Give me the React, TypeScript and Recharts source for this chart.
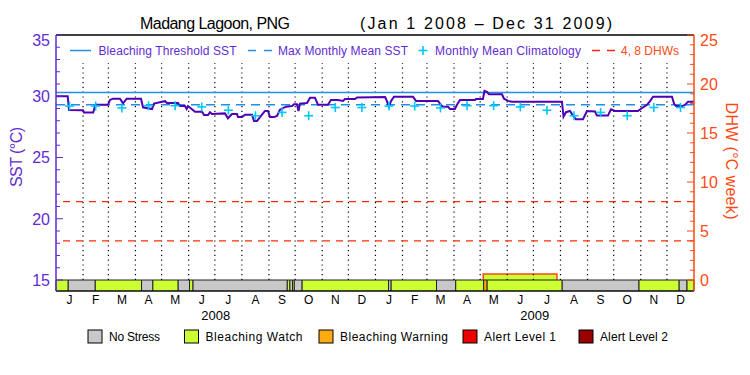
import React from 'react';
import {
  ComposedChart,
  Line,
  Scatter,
  Area,
  XAxis,
  YAxis,
  ReferenceLine,
  ReferenceArea,
} from 'recharts';

// ---------- data ----------
const monthStartDays = [0, 31, 60, 91, 121, 152, 182, 213, 244, 274, 305, 335, 366, 397, 425, 456, 486, 517, 547, 578, 609, 639, 670, 700, 731];
const monthLetters = ['J', 'F', 'M', 'A', 'M', 'J', 'J', 'A', 'S', 'O', 'N', 'D', 'J', 'F', 'M', 'A', 'M', 'J', 'J', 'A', 'S', 'O', 'N', 'D'];
const yearLabels = ['2008', '2009'];
const yearMidDays = [183, 548.5];

// [day since Jan 1 2008, SST °C]
const sstReadings: [number, number][] = [
  [0, 30.0], [13.4, 30.0], [14.9, 28.88], [30.9, 28.85], [32, 28.68], [42.7, 28.68], [44.7, 29.2], [45.8, 29.3],
  [59.6, 29.3], [61.9, 29.7], [65.3, 29.8], [73.3, 29.8], [76.8, 29.42], [81, 29.8], [97.4, 29.8], [99.7, 29.1],
  [110, 28.96], [112.3, 29.4], [121.4, 29.55], [124.9, 29.6], [127.2, 29.45], [139.8, 29.45], [142, 29.2], [147.8, 29.2],
  [149.7, 28.96], [151.2, 29.2], [154.7, 29.0], [159.3, 28.74], [167.3, 28.74], [169.6, 28.47], [174.2, 28.47], [176.4, 28.7],
  [178.7, 28.55], [193.6, 28.6], [197, 28.2], [201.6, 28.55], [207.4, 28.55], [208.5, 28.3], [213.1, 28.3], [216.5, 28.5],
  [224.6, 28.5], [226.9, 27.98], [230.3, 27.98], [232.6, 28.2], [236, 28.5], [239.5, 28.8], [242.9, 28.8], [245.2, 28.3],
  [249.8, 28.3], [253.2, 28.4], [256.6, 28.9], [263.5, 29.15], [270.4, 29.2], [272.7, 29.34], [276.1, 29.34], [277.8, 28.8],
  [279.6, 29.4], [287.6, 29.45], [291, 29.88], [296.7, 29.88], [300.2, 29.3], [311.6, 29.3], [315, 29.7], [323, 29.7],
  [328.8, 29.62], [331.1, 29.78], [342.6, 29.78], [344.9, 29.9], [377, 29.94], [378, 29.8], [381.5, 29.15], [383.8, 29.6],
  [387.2, 29.96], [409, 29.96], [412.5, 29.62], [437.7, 29.62], [441.1, 29.29], [443.4, 29.15], [449.1, 29.15], [451.4, 28.96],
  [457.1, 28.96], [459.4, 29.3], [462.9, 29.7], [480, 29.7], [481.2, 29.78], [489.2, 29.78], [490.9, 30.43], [493.8, 30.35],
  [496.1, 30.16], [511, 30.16], [513.3, 29.8], [517.9, 29.62], [522.5, 29.56], [579.7, 29.56], [581.5, 28.33], [584.3, 28.7],
  [588.9, 28.8], [592.4, 28.42], [595.8, 28.12], [603.8, 28.12], [608.4, 28.8], [617.6, 28.75], [619.8, 28.42], [632.4, 28.42],
  [635.9, 28.93], [640.5, 28.8], [666.8, 28.8], [672.6, 29.1], [677.2, 29.3], [680.6, 29.6], [684.1, 29.96], [705.8, 29.96],
  [708.1, 29.4], [710.4, 29.2], [717.3, 29.2], [720.7, 29.3], [724.1, 29.56], [731, 29.56],
];

// monthly mean climatology (°C), one per month of the two years
const climValues = [
  29.2, 29.2, 29.05, 29.23, 29.23, 29.13, 28.86, 28.41, 28.68, 28.41, 29.08, 29.08,
  29.2, 29.2, 29.05, 29.23, 29.23, 29.13, 28.86, 28.41, 28.68, 28.41, 29.08, 29.08,
];

const bleachingThreshold = 30.3;
const maxMonthlyMean = 29.3;
const dhwLevels = [4, 8];

const dhwDays = [489.5, 489.5, 574, 574];
const dhwValues = [0, 0.6, 0.6, 0];

// stress status periods (0 none, 1 watch, 2 warning, 3 alert1, 4 alert2)
const statusStart = [0, 14, 45, 98, 111, 140, 153, 157, 265, 268, 271, 273, 282, 381, 384, 436, 458, 490, 494, 580, 668, 714, 723];
const statusEnd = [14, 45, 98, 111, 140, 153, 157, 265, 268, 271, 273, 282, 381, 384, 436, 458, 490, 494, 580, 668, 714, 723, 731];
const statusLevel = [1, 0, 1, 0, 1, 0, 1, 0, 1, 0, 1, 0, 1, 0, 1, 0, 1, 2, 1, 0, 1, 0, 1];
const statusNames = ['No Stress', 'Bleaching Watch', 'Bleaching Warning', 'Alert Level 1', 'Alert Level 2'];

const leftTicks = [15, 16, 17, 18, 19, 20, 21, 22, 23, 24, 25, 26, 27, 28, 29, 30, 31, 32, 33, 34, 35];
const rightTicks = [0, 1, 2, 3, 4, 5, 6, 7, 8, 9, 10, 11, 12, 13, 14, 15, 16, 17, 18, 19, 20, 21, 22, 23, 24, 25];

// ---------- styles ----------
const statusColors = ['#c8c8c8', '#ccff33', '#ffaa11', '#ee0000', '#990000'];
const statusLegendX = [88, 184.5, 319, 463, 579];
const statusLegendLen = [51, 97, 108, 72, 68];
const PURPLE = '#5f2bd4';
const SSTLINE = '#5000b4';
const BLUE = '#1e90e8';
const CYAN = '#00c8ff';
const RED = '#ff2a00';
const ORANGE = '#ff4a14';
const FONT = '"Liberation Sans", Arial, sans-serif';

const LEFT_MIN = 14.102;
const RIGHT_MIN = -1.122;
const TICK_MARGIN_L = 6;
const TICK_MARGIN_R = 6;

const sstData = sstReadings.map(([day, sst]) => ({ day, sst }));
const monthMid = monthLetters.map((_, i) => (monthStartDays[i] + monthStartDays[i + 1]) / 2);
const climData = climValues.map((clim, i) => ({ day: monthMid[i], clim }));
const dhwData = dhwDays.map((day, i) => ({ day, dhw: dhwValues[i] }));

const LeftTick = (props: any) => {
  const { x, y, payload } = props;
  const v = payload.value;
  const major = v % 5 === 0;
  const ax = x + TICK_MARGIN_L;
  return (
    <g>
      <line x1={ax} x2={ax + (major ? 7 : 4)} y1={y} y2={y} stroke={PURPLE} strokeWidth={1} />
      {major && (
        <text x={x} y={y} dy={v === 35 ? 11 : 6} textAnchor="end" fill={PURPLE} fontSize={16} fontFamily={FONT}>
          {v}
        </text>
      )}
    </g>
  );
};

const RightTick = (props: any) => {
  const { x, y, payload } = props;
  const v = payload.value;
  const major = v % 5 === 0;
  const ax = x - TICK_MARGIN_R;
  return (
    <g>
      <line x1={ax} x2={ax - (major ? 7 : 4)} y1={y} y2={y} stroke={ORANGE} strokeWidth={1} />
      {major && (
        <text x={x} y={y} dy={v === 25 ? 11 : 6} textAnchor="start" fill={ORANGE} fontSize={16} fontFamily={FONT}>
          {v}
        </text>
      )}
    </g>
  );
};

const Cross = (props: any) => {
  const { cx, cy } = props;
  if (cx == null || cy == null) return null;
  return (
    <g>
      <line x1={cx - 4.5} x2={cx + 4.5} y1={cy} y2={cy} stroke={CYAN} strokeWidth={1.6} />
      <line x1={cx} x2={cx} y1={cy - 4.5} y2={cy + 4.5} stroke={CYAN} strokeWidth={1.6} />
    </g>
  );
};

export default function App() {
  return (
    <div style={{ position: 'absolute', left: 0, top: 0, width: 750, height: 375, background: '#fff' }}>
      <ComposedChart
        width={750}
        height={375}
        margin={{ top: 35, right: 0, left: 0, bottom: 50 }}
        style={{ fontFamily: FONT }}
      >
        <XAxis
          dataKey="day"
          type="number"
          domain={[0, 731]}
          allowDataOverflow
          ticks={monthMid}
          interval={0}
          tickFormatter={(_v: number, i: number) => monthLetters[i]}
          tickLine={false}
          tickSize={0}
          tickMargin={4}
          height={16}
          axisLine={{ stroke: '#000' }}
          tick={{ fill: '#000', fontSize: 12, fontFamily: FONT }}
        />
        <XAxis
          xAxisId="yr"
          dataKey="day"
          type="number"
          domain={[0, 731]}
          allowDataOverflow
          ticks={yearMidDays}
          interval={0}
          tickFormatter={(_v: number, i: number) => yearLabels[i]}
          tickLine={false}
          tickSize={0}
          tickMargin={4}
          height={18}
          axisLine={false}
          tick={{ fill: '#000', fontSize: 13, fontFamily: FONT }}
        />
        <YAxis
          yAxisId="left"
          orientation="left"
          type="number"
          domain={[LEFT_MIN, 35]}
          allowDataOverflow
          ticks={leftTicks}
          interval={0}
          width={56}
          tickLine={false}
          tickSize={0}
          tickMargin={TICK_MARGIN_L}
          axisLine={{ stroke: PURPLE, strokeWidth: 1.5 }}
          tick={<LeftTick />}
        />
        <YAxis
          yAxisId="right"
          orientation="right"
          type="number"
          domain={[RIGHT_MIN, 25]}
          allowDataOverflow
          ticks={rightTicks}
          interval={0}
          width={56}
          tickLine={false}
          tickSize={0}
          tickMargin={TICK_MARGIN_R}
          axisLine={{ stroke: ORANGE, strokeWidth: 1.5 }}
          tick={<RightTick />}
        />

        {monthStartDays.slice(1, -1).map((d) => (
          <ReferenceLine
            key={'g' + d}
            yAxisId="left"
            segment={[{ x: d, y: 15 }, { x: d, y: 32.7 }]}
            stroke="#000"
            strokeWidth={1.2}
            strokeDasharray="1.2 3.6"
          />
        ))}

        <ReferenceLine yAxisId="left" y={35} stroke="#000" strokeWidth={1.5} />
        <ReferenceLine yAxisId="left" y={bleachingThreshold} stroke={BLUE} strokeWidth={1.5} />
        <ReferenceLine yAxisId="left" y={maxMonthlyMean} stroke={BLUE} strokeWidth={1.5} strokeDasharray="9 6" />
        {dhwLevels.map((v) => (
          <ReferenceLine key={'dhw' + v} yAxisId="right" y={v} stroke={RED} strokeWidth={1.3} strokeDasharray="7 6" />
        ))}

        <Area
          yAxisId="right"
          data={dhwData}
          dataKey="dhw"
          type="linear"
          stroke={ORANGE}
          strokeWidth={1.5}
          fill="#ccff33"
          fillOpacity={1}
          dot={false}
          activeDot={false}
          isAnimationActive={false}
        />

        {statusStart.map((s, i) => (
          <ReferenceArea
            key={'s' + i}
            yAxisId="right"
            x1={s}
            x2={statusEnd[i]}
            y1={RIGHT_MIN}
            y2={0}
            fill={statusColors[statusLevel[i]]}
            fillOpacity={1}
            stroke="#222"
            strokeWidth={1}
          />
        ))}

        <Line
          yAxisId="left"
          data={sstData}
          dataKey="sst"
          type="linear"
          stroke={SSTLINE}
          strokeWidth={2}
          dot={false}
          activeDot={false}
          isAnimationActive={false}
        />
        <Scatter
          yAxisId="left"
          data={climData}
          dataKey="clim"
          shape={<Cross />}
          isAnimationActive={false}
        />
      </ComposedChart>

      <svg
        width={750}
        height={375}
        style={{ position: 'absolute', left: 0, top: 0, pointerEvents: 'none' }}
        fontFamily={FONT}
      >
        <text x={140} y={28.5} fontSize={16} fill="#000" textLength={150} lengthAdjust="spacing">
          Madang Lagoon, PNG
        </text>
        <text x={360} y={28.5} fontSize={16} fill="#000" textLength={252} lengthAdjust="spacing">
          (Jan 1 2008 – Dec 31 2009)
        </text>

        <line x1={70} x2={91} y1={50.5} y2={50.5} stroke={BLUE} strokeWidth={1.5} />
        <text x={98.5} y={54.5} fontSize={12} fill={PURPLE} textLength={138} lengthAdjust="spacing">
          Bleaching Threshold SST
        </text>
        <line x1={248} x2={272} y1={50.5} y2={50.5} stroke={BLUE} strokeWidth={1.5} strokeDasharray="8 8" />
        <text x={278} y={54.5} fontSize={12} fill={PURPLE} textLength={130} lengthAdjust="spacing">
          Max Monthly Mean SST
        </text>
        <line x1={418.5} x2={427.5} y1={50.5} y2={50.5} stroke={CYAN} strokeWidth={1.6} />
        <line x1={423} x2={423} y1={46} y2={55} stroke={CYAN} strokeWidth={1.6} />
        <text x={435} y={54.5} fontSize={12} fill={PURPLE} textLength={146} lengthAdjust="spacing">
          Monthly Mean Climatology
        </text>
        <line x1={592} x2={615} y1={50.5} y2={50.5} stroke={RED} strokeWidth={1.5} strokeDasharray="8 7" />
        <text x={621} y={54.5} fontSize={12} fill={ORANGE} textLength={58} lengthAdjust="spacing">
          4, 8 DHWs
        </text>

        <text transform="translate(22,157) rotate(-90)" textAnchor="middle" fontSize={16} fill={PURPLE} textLength={60} lengthAdjust="spacing">
          SST (°C)
        </text>
        <text transform="translate(726,161) rotate(90)" textAnchor="middle" fontSize={16} fill={ORANGE} textLength={117} lengthAdjust="spacing">
          DHW (°C week)
        </text>

        {statusNames.map((name, i) => (
          <g key={name}>
            <rect x={statusLegendX[i]} y={330} width={14} height={13} fill={statusColors[i]} stroke="#000" strokeWidth={1} />
            <text x={statusLegendX[i] + 21} y={341} fontSize={12} fill="#000" textLength={statusLegendLen[i]} lengthAdjust="spacing">
              {name}
            </text>
          </g>
        ))}
      </svg>
    </div>
  );
}
